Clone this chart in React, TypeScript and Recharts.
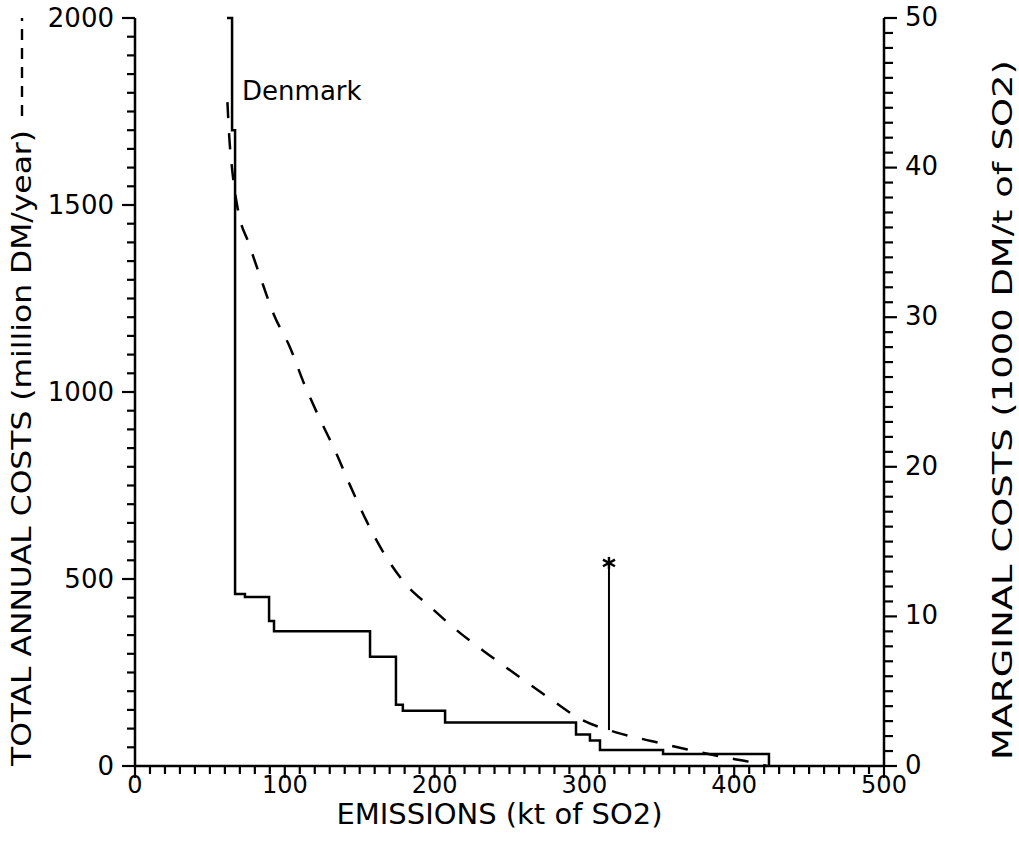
import { ComposedChart, Line, XAxis, YAxis, ReferenceDot } from "recharts";

// total annual costs (million DM/year) vs emissions (kt SO2) - dashed curve
const totalEmissions = [
  61.7, 62.8, 65.1, 68.8, 76.1, 84.1, 92.8, 103.5, 112.8, 122.8, 133.7, 143.5,
  154.2, 165.4, 179.1, 197.5, 216.3, 236.3, 257.0, 276.4, 297.1, 321.1, 344.5,
  368.8, 393.9, 417.2, 421.9,
];
const totalCosts = [
  1775, 1690, 1586, 1485, 1396, 1302, 1206, 1119, 1023, 933, 842, 751, 658, 574,
  494, 424, 358, 297, 237, 182, 126, 90, 67, 44, 23, 5, 0,
];

// marginal costs (1000 DM/t of SO2) - step curve, value holds until next x
const marginalEmissions = [
  61.4, 64.8, 66.8, 73.4, 89.5, 92.8, 156.9, 174.2, 178.8, 207.0, 294.4, 303.7,
  310.4, 352.5, 423.2,
];
const marginalCosts = [
  50, 42.5, 11.5, 11.3, 9.7, 9.0, 7.3, 4.1, 3.7, 2.9, 2.1, 1.7, 1.07, 0.8, 0,
];

// marked point (star) with its drop line
const markEmissions = [316.4, 316.4];
const markCosts = [96, 543];

const xTicks = Array.from({ length: 51 }, (_, i) => i * 10);
const leftTicks = Array.from({ length: 41 }, (_, i) => i * 50);
const rightTicks = Array.from({ length: 51 }, (_, i) => i);

const totalData = totalEmissions.map((x, i) => ({ x, y: totalCosts[i] }));
const marginalData = marginalEmissions.map((x, i) => ({ x, y: marginalCosts[i] }));
const markData = markEmissions.map((x, i) => ({ x, y: markCosts[i] }));

const INK = "#000";
const FONT = "'DejaVu Sans', sans-serif";

function BottomTick(props: any) {
  const { x, y, payload } = props;
  const major = payload.value % 100 === 0;
  return (
    <g>
      <line x1={x} x2={x} y1={y} y2={y + (major ? 12 : 8)} stroke={INK} strokeWidth={2.2} />
      {major && (
        <text x={x} y={y + 27} textAnchor="middle" fontSize={24} fill={INK} fontFamily={FONT}>
          {payload.value}
        </text>
      )}
    </g>
  );
}

function LeftTick(props: any) {
  const { x, y, payload } = props;
  const major = payload.value % 500 === 0;
  return (
    <g>
      <line x1={x} x2={x - (major ? 13 : 8)} y1={y} y2={y} stroke={INK} strokeWidth={2.2} />
      {major && (
        <text x={x - 21} y={y} dy="0.36em" textAnchor="end" fontSize={26} fill={INK} fontFamily={FONT}>
          {payload.value}
        </text>
      )}
    </g>
  );
}

function RightTick(props: any) {
  const { x, y, payload } = props;
  const major = payload.value % 10 === 0;
  return (
    <g>
      <line x1={x} x2={x + (major ? 13 : 9)} y1={y} y2={y} stroke={INK} strokeWidth={2.2} />
      {major && (
        <text x={x + 21} y={y} dy="0.3em" textAnchor="start" fontSize={26} fill={INK} fontFamily={FONT}>
          {payload.value}
        </text>
      )}
    </g>
  );
}

function StarDot(props: any) {
  const { cx, cy, index } = props;
  if (index !== 1 || cx == null) return <g key={`d-${index}`} />;
  const r = 6;
  return (
    <g key={`d-${index}`} stroke={INK} strokeWidth={2.4}>
      <line x1={cx} y1={cy - r} x2={cx} y2={cy + r} />
      <line x1={cx - r} y1={cy - r * 0.55} x2={cx + r} y2={cy + r * 0.55} />
      <line x1={cx - r} y1={cy + r * 0.55} x2={cx + r} y2={cy - r * 0.55} />
    </g>
  );
}

export default function App() {
  return (
    <div style={{ position: "absolute", left: 0, top: 0, background: "#fff" }}>
      <ComposedChart
        width={1019}
        height={843}
        margin={{ top: 18, right: 15, bottom: 17, left: 15 }}
        style={{ fontFamily: FONT }}
      >
        <XAxis
          type="number"
          dataKey="x"
          domain={[0, 500]}
          ticks={xTicks}
          interval={0}
          allowDataOverflow
          height={60}
          tickSize={0}
          tickMargin={0}
          tickLine={false}
          axisLine={{ stroke: INK, strokeWidth: 2.5 }}
          tick={<BottomTick />}
          label={{
            content: (p: any) => {
              const vb = p.viewBox;
              return (
                <text
                  x={vb.x + vb.width / 2 - 10}
                  y={vb.y + 58}
                  textAnchor="middle"
                  fontSize={28}
                  textLength={326}
                  lengthAdjust="spacingAndGlyphs"
                  fill={INK}
                  fontFamily={FONT}
                >
                  EMISSIONS (kt of SO2)
                </text>
              );
            },
          }}
        />
        <YAxis
          yAxisId="left"
          type="number"
          domain={[0, 2000]}
          ticks={leftTicks}
          interval={0}
          width={120}
          tickSize={0}
          tickMargin={0}
          tickLine={false}
          axisLine={{ stroke: INK, strokeWidth: 2.5 }}
          tick={<LeftTick />}
          label={{
            content: (p: any) => {
              const vb = p.viewBox;
              const cx = vb.x + 16;
              return (
                <g>
                  <text
                    x={0}
                    y={0}
                    transform={`translate(${cx}, 448) rotate(-90)`}
                    textAnchor="middle"
                    fontSize={27}
                    textLength={636}
                    lengthAdjust="spacingAndGlyphs"
                    fill={INK}
                    fontFamily={FONT}
                  >
                    TOTAL ANNUAL COSTS (million DM/year)
                  </text>
                  <line
                    x1={cx - 9}
                    x2={cx - 9}
                    y1={116}
                    y2={18}
                    stroke={INK}
                    strokeWidth={2.4}
                    strokeDasharray="11 8"
                  />
                </g>
              );
            },
          }}
        />
        <YAxis
          yAxisId="right"
          orientation="right"
          type="number"
          domain={[0, 50]}
          ticks={rightTicks}
          interval={0}
          width={120}
          tickSize={0}
          tickMargin={0}
          tickLine={false}
          axisLine={{ stroke: INK, strokeWidth: 2.5 }}
          tick={<RightTick />}
          label={{
            content: (p: any) => {
              const vb = p.viewBox;
              return (
                <text
                  x={0}
                  y={0}
                  transform={`translate(${vb.x + 128}, 410) rotate(-90)`}
                  textAnchor="middle"
                  fontSize={26}
                  textLength={700}
                  lengthAdjust="spacingAndGlyphs"
                  fill={INK}
                  fontFamily={FONT}
                >
                  MARGINAL COSTS (1000 DM/t of SO2)
                </text>
              );
            },
          }}
        />
        <Line
          yAxisId="left"
          data={totalData}
          dataKey="y"
          type="monotone"
          stroke={INK}
          strokeWidth={2.5}
          strokeDasharray="16 15"
          dot={false}
          isAnimationActive={false}
        />
        <Line
          yAxisId="right"
          data={marginalData}
          dataKey="y"
          type="stepAfter"
          stroke={INK}
          strokeWidth={2.5}
          dot={false}
          isAnimationActive={false}
        />
        <Line
          yAxisId="left"
          data={markData}
          dataKey="y"
          type="linear"
          stroke={INK}
          strokeWidth={2}
          dot={<StarDot />}
          isAnimationActive={false}
        />
        <ReferenceDot
          yAxisId="left"
          x={66.8}
          y={1805}
          r={2}
          fill="none"
          stroke="none"
          label={{
            value: "Denmark",
            position: "right",
            offset: 5,
            fontSize: 26,
            fill: INK,
            fontFamily: FONT,
          }}
        />
      </ComposedChart>
    </div>
  );
}
